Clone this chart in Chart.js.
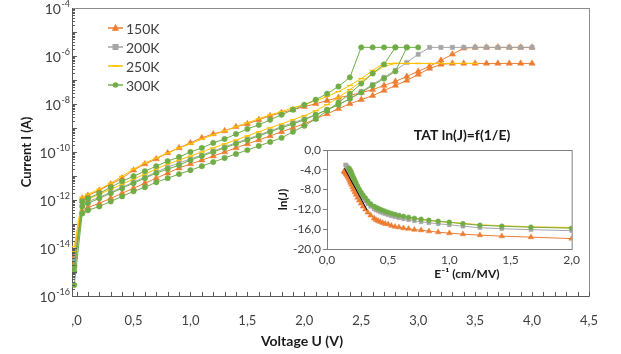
<!DOCTYPE html>
<html>
<head>
<meta charset="UTF-8">
<title>I-V curves and TAT inset</title>
<script src="https://cdn.jsdelivr.net/npm/chart.js"></script>
<style>
  body { margin: 0; background: #fff; }
  #wrap { position: relative; width: 621px; height: 354px; }
  #main { position: absolute; left: 0; top: 0; }
  #inset { position: absolute; left: 272px; top: 122px; }
</style>
</head>
<body>
<div id="wrap">
  <canvas id="main" width="621" height="354"></canvas>
  <canvas id="inset" width="312" height="165"></canvas>
</div>
<script>
// ---- main chart data: voltage (V) and log10 of current (A) per sweep ----
const volts = [-0.02, 0.05, 0.1, 0.2, 0.3, 0.4, 0.5, 0.6, 0.7, 0.8, 0.9, 1.0, 1.1, 1.2, 1.3, 1.4,
  1.5, 1.6, 1.7, 1.8, 1.9, 2.0, 2.1, 2.2, 2.3, 2.4, 2.5, 2.6, 2.7, 2.8, 2.9, 3.0, 3.1, 3.2, 3.3,
  3.4, 3.5, 3.6, 3.7, 3.8, 3.9, 4.0];

const lg150a = [-14.36, -11.93, -11.81, -11.60, -11.34, -11.09, -10.76, -10.50, -10.29, -10.04,
  -9.83, -9.62, -9.41, -9.25, -9.12, -8.95, -8.83, -8.66, -8.49, -8.36, -8.24, -8.11, -7.99, -7.86,
  -7.73, -7.65, -7.52, -7.40, -7.23, -7.06, -6.85, -6.64, -6.43, -6.18, -5.93, -5.68,
  -5.64, -5.64, -5.64, -5.64, -5.64, -5.64];
const lg150b = [-14.66, -12.48, -12.31, -12.14, -11.93, -11.72, -11.51, -11.30, -11.09, -10.88,
  -10.67, -10.50, -10.34, -10.17, -10.00, -9.83, -9.66, -9.50, -9.33, -9.16, -8.99, -8.83, -8.62,
  -8.41, -8.20, -7.99, -7.82, -7.65, -7.44, -7.23, -7.02, -6.77, -6.52, -6.35,
  -6.31, -6.31, -6.31, -6.31, -6.31, -6.31, -6.31, -6.31];
const lg200 = [-14.49, -12.18, -12.06, -11.89, -11.68, -11.47, -11.26, -11.05, -10.84, -10.63,
  -10.46, -10.29, -10.13, -9.96, -9.79, -9.62, -9.46, -9.29, -9.12, -8.95, -8.78, -8.62, -8.45,
  -8.24, -8.03, -7.78, -7.48, -7.19, -6.89, -6.60, -6.27, -5.93,
  -5.64, -5.64, -5.64, -5.64, -5.64, -5.64, -5.64, -5.64, -5.64, -5.64];
const lg250a = [-13.94, -11.89, -11.76, -11.55, -11.30, -11.01, -10.71, -10.46, -10.25, -10.04,
  -9.83, -9.66, -9.46, -9.29, -9.12, -8.95, -8.78, -8.62, -8.45, -8.32, -8.15, -8.03, -7.86, -7.69,
  -7.48, -7.23, -6.94, -6.60, -6.31, -6.31, -6.31, -6.31, -6.31, -6.31, -6.31, -6.31, -6.31,
  null, null, null, null, null];
const lg250b = [-14.15, -12.10, -11.97, -11.76, -11.55, -11.34, -11.13, -10.92, -10.71, -10.50,
  -10.34, -10.17, -10.00, -9.83, -9.66, -9.50, -9.33, -9.16, -8.99, -8.83, -8.66, -8.49, -8.28,
  -8.03, -7.73, -7.40, -7.06, -6.73, -6.43, -6.31, -6.31, -6.31,
  null, null, null, null, null, null, null, null, null, null];
const lg300a = [-14.78, -12.06, -11.93, -11.72, -11.47, -11.22, -11.01, -10.80, -10.59, -10.38,
  -10.21, -10.00, -9.83, -9.62, -9.46, -9.25, -9.04, -8.87, -8.66, -8.45, -8.24, -8.03, -7.82,
  -7.57, -7.27, -6.89, -5.64, -5.64, -5.64, -5.64, -5.64, -5.64,
  null, null, null, null, null, null, null, null, null, null];
const lg300b = [-14.99, -12.27, -12.14, -11.93, -11.72, -11.51, -11.30, -11.09, -10.88, -10.71,
  -10.55, -10.34, -10.17, -10.00, -9.83, -9.66, -9.50, -9.33, -9.16, -8.99, -8.83, -8.66, -8.45,
  -8.24, -8.03, -7.78, -7.52, -7.23, -6.94, -6.64, -5.64,
  null, null, null, null, null, null, null, null, null, null, null];
const lg300c = [-15.54, -12.56, -12.43, -12.27, -12.06, -11.85, -11.64, -11.47, -11.26, -11.09,
  -10.92, -10.76, -10.59, -10.42, -10.25, -10.08, -9.92, -9.75, -9.58, -9.41, -9.16, -8.91, -8.62,
  -8.28, -7.94, -7.57, -7.15, -6.73, -6.35, -5.64,
  null, null, null, null, null, null, null, null, null, null, null, null];

const legendNames = ['150K', '200K', '250K', '300K'];
const xTickVals = [0, 0.5, 1.0, 1.5, 2.0, 2.5, 3.0, 3.5, 4.0, 4.5];
const yTickExps = [-16, -14, -12, -10, -8, -6, -4];

// ---- inset data: E^-1 (cm/MV) and ln(J) ----
const invE = [2.0, 1.667, 1.429, 1.25, 1.111, 1.0, 0.909, 0.833, 0.769, 0.714, 0.667, 0.625,
  0.588, 0.556, 0.526, 0.5, 0.476, 0.455, 0.435, 0.417, 0.4, 0.385, 0.357, 0.333, 0.313, 0.294,
  0.278, 0.263, 0.25, 0.238, 0.227, 0.217, 0.208, 0.2, 0.192, 0.185, 0.179, 0.172, 0.167, 0.161,
  0.156, 0.152, 0.147, 0.143, 0.139];
const lnJ150 = [-17.9, -17.6, -17.4, -17.2, -17.0, -16.8, -16.6, -16.4, -16.2, -16.1, -15.9, -15.8,
  -15.6, -15.5, -15.3, -15.0, -14.9, -14.7, -14.5, -14.3, -14.1, -13.8, -13.2, -12.6, -12.0, -11.4,
  -10.8, -10.2, -9.6, -9.0, -8.5, -8.0, -7.5, -7.0, -6.6, -6.2, -5.8, -5.5, -5.2, -5.0,
  -4.8, -4.6, -4.5, -4.4, -4.3];
const lnJ200 = [-16.3, -16.1, -15.9, -15.7, -15.4, -15.1, -14.9, -14.7, -14.5, -14.3, -14.1, -13.9,
  -13.7, -13.5, -13.3, -13.1, -12.9, -12.7, -12.5, -12.3, -12.1, -11.9, -11.4, -10.9, -10.3, -9.7,
  -9.1, -8.5, -7.9, -7.3, -6.7, -6.1, -5.6, -5.1, -4.7, -4.3, -4.0, -3.7, -3.5, -3.3,
  -3.1, -3.0, null, null, null];
const lnJ250 = [-15.7, -15.5, -15.3, -15.1, -14.8, -14.6, -14.4, -14.2, -14.0, -13.8, -13.7, -13.5,
  -13.3, -13.1, -12.9, -12.7, -12.5, -12.3, -12.1, -11.9, -11.7, -11.5, -11.0, -10.5, -9.9, -9.3,
  -8.7, -8.1, -7.5, -6.9, -6.3, -5.8, -5.3, -4.8, -4.4, -4.1, -3.8, -3.6, null, null,
  null, null, null, null, null];
const lnJ300 = [-15.8, -15.6, -15.4, -15.2, -14.9, -14.6, -14.4, -14.2, -14.0, -13.8, -13.6, -13.4,
  -13.2, -13.0, -12.8, -12.6, -12.4, -12.2, -12.0, -11.8, -11.6, -11.4, -10.9, -10.3, -9.7, -9.1,
  -8.5, -7.9, -7.3, -6.7, -6.1, -5.6, -5.1, -4.6, -4.2, -3.9, -3.7, null, null, null,
  null, null, null, null, null];
const fitX = [0.143, 0.327];
const fitY = [-3.7, -12.1];
const insetXTicks = [0, 0.5, 1.0, 1.5, 2.0];
const insetYTicks = [-20, -16, -12, -8, -4, 0];

// ---- styles ----
const FONT = 'Lato, "Open Sans", sans-serif';
const TXT = '#404040';
const look = {
  '150K': { color: '#ED7D31', point: 'triangle', r: 3.6, order: 4 },
  '200K': { color: '#A5A5A5', point: 'rect', r: 3.0, order: 3 },
  '250K': { color: '#FFC000', point: 'line', r: 3.0, order: 2 },
  '300K': { color: '#70AD47', point: 'circle', r: 2.7, order: 1 }
};

function ivPoints(lg) {
  return volts.map((v, i) => ({ x: v, y: lg[i] === null ? null : Math.pow(10, lg[i]) }));
}
function xyPoints(xs, ys) {
  return xs.map((v, i) => ({ x: v, y: ys[i] }));
}
function styled(name, data) {
  const s = look[name];
  return {
    label: name, data: data, order: s.order,
    borderColor: s.color, backgroundColor: s.color, borderWidth: 1,
    pointStyle: s.point, pointRadius: s.r, pointBackgroundColor: s.color,
    pointBorderColor: s.color, pointBorderWidth: s.point === 'line' ? 1.3 : 0.5,
    spanGaps: false, tension: 0
  };
}
const comma = v => v.toFixed(1).replace('.', ',');

function drawMarker(ctx, style, r, x, y) {
  ctx.beginPath();
  if (style === 'circle') {
    ctx.arc(x, y, r, 0, Math.PI * 2); ctx.fill();
  } else if (style === 'rect') {
    ctx.fillRect(x - r, y - r, 2 * r, 2 * r);
  } else if (style === 'triangle') {
    ctx.moveTo(x, y - r * 1.15); ctx.lineTo(x + r, y + r * 0.75); ctx.lineTo(x - r, y + r * 0.75);
    ctx.closePath(); ctx.fill();
  } else {
    ctx.lineWidth = 1.5; ctx.moveTo(x - r, y); ctx.lineTo(x + r, y); ctx.stroke();
  }
}

const mainDecor = {
  id: 'mainDecor',
  beforeDatasetsDraw(chart) {
    const { ctx, chartArea: a } = chart;
    ctx.save();
    ctx.strokeStyle = '#8c8c8c'; ctx.lineWidth = 1;
    ctx.strokeRect(a.left + 0.5, a.top + 0.5, a.right - a.left, a.bottom - a.top);
    ctx.strokeStyle = '#595959';
    ctx.beginPath();
    ctx.moveTo(a.left + 0.5, a.top); ctx.lineTo(a.left + 0.5, a.bottom + 0.5);
    ctx.lineTo(a.right, a.bottom + 0.5);
    ctx.stroke();
    ctx.restore();
  },
  afterDraw(chart) {
    const { ctx, chartArea: a } = chart;
    const xs = chart.scales.x, ys = chart.scales.y;
    ctx.save();
    ctx.strokeStyle = '#595959'; ctx.lineWidth = 1;
    ctx.beginPath();
    for (let k = 0; k <= 45; k++) {
      const px = Math.round(xs.getPixelForValue(k / 10)) + 0.5;
      ctx.moveTo(px, a.bottom); ctx.lineTo(px, a.bottom - 4);
    }
    for (let e = -16; e < -4; e++) {
      for (let m = 1; m <= 9; m++) {
        const py = Math.round(ys.getPixelForValue(m * Math.pow(10, e))) + 0.5;
        ctx.moveTo(a.left, py); ctx.lineTo(a.left + (m === 1 ? 5 : 3), py);
      }
    }
    ctx.stroke();
    // y tick labels 10^n, right-aligned just left of the axis
    ctx.fillStyle = TXT;
    ys.ticks.forEach(t => {
      const py = ys.getPixelForValue(t.value);
      const exp = String(Math.round(Math.log10(t.value)));
      ctx.font = '9px ' + FONT;
      const ew = ctx.measureText(exp).width;
      ctx.textAlign = 'left'; ctx.textBaseline = 'middle';
      ctx.fillText(exp, 70 - ew, py - 4);
      ctx.font = '14px ' + FONT; ctx.textAlign = 'right';
      ctx.fillText('10', 70 - ew - 0.5, py + 1);
    });
    // x axis title
    ctx.fillStyle = '#1a1a1a'; ctx.font = 'bold 14px ' + FONT;
    ctx.textAlign = 'center'; ctx.textBaseline = 'middle';
    ctx.fillText('Voltage U (V)', 302, 341);
    // legend
    legendNames.forEach((name, i) => {
      const s = look[name], py = 28 + i * 19;
      ctx.strokeStyle = s.color; ctx.fillStyle = s.color; ctx.lineWidth = 1.5;
      ctx.beginPath(); ctx.moveTo(108, py); ctx.lineTo(123, py); ctx.stroke();
      drawMarker(ctx, s.point, s.r, 115.5, py);
      ctx.fillStyle = TXT; ctx.font = '14px ' + FONT;
      ctx.textAlign = 'left'; ctx.textBaseline = 'middle';
      ctx.fillText(name, 126, py + 1);
    });
    ctx.restore();
  }
};

new Chart(document.getElementById('main'), {
  type: 'line',
  data: {
    datasets: [
      styled('150K', ivPoints(lg150a)),
      styled('150K', ivPoints(lg150b)),
      styled('200K', ivPoints(lg200)),
      styled('250K', ivPoints(lg250a)),
      styled('250K', ivPoints(lg250b)),
      styled('300K', ivPoints(lg300a)),
      styled('300K', ivPoints(lg300b)),
      styled('300K', ivPoints(lg300c))
    ]
  },
  options: {
    responsive: false, animation: false,
    layout: { padding: { top: 8, right: 32, left: 0, bottom: 0 } },
    plugins: { legend: { display: false }, tooltip: { enabled: false } },
    scales: {
      x: {
        type: 'linear', min: -0.04, max: 4.5,
        afterBuildTicks: s => { s.ticks = xTickVals.map(v => ({ value: v })); },
        afterFit: s => { s.height = 58; },
        grid: { display: false, drawTicks: false }, border: { display: false },
        ticks: {
          padding: 17, color: TXT, font: { family: FONT, size: 13 },
          callback: v => (v === 0 ? ',0' : comma(v)), maxRotation: 0
        }
      },
      y: {
        type: 'logarithmic', min: 1e-16, max: 1e-4,
        afterBuildTicks: s => { s.ticks = yTickExps.map(e => ({ value: Math.pow(10, e) })); },
        afterFit: s => { s.width = 72; },
        grid: { display: false, drawTicks: false }, border: { display: false },
        ticks: { display: false },
        title: {
          display: true, text: 'Current I (A)', color: '#1a1a1a',
          font: { family: FONT, size: 13, weight: 'bold' }, padding: { top: 19 }
        }
      }
    }
  },
  plugins: [mainDecor]
});

// ---- inset ----
const insetDecor = {
  id: 'insetDecor',
  beforeDatasetsDraw(chart) {
    const { ctx, chartArea: a } = chart;
    ctx.save();
    ctx.fillStyle = '#fff';
    ctx.fillRect(a.left, a.top, a.right - a.left, a.bottom - a.top);
    ctx.restore();
  },
  afterDraw(chart) {
    const { ctx, chartArea: a } = chart;
    ctx.save();
    ctx.strokeStyle = '#7f7f7f'; ctx.lineWidth = 1;
    ctx.strokeRect(a.left + 0.5, a.top + 0.5, a.right - a.left, a.bottom - a.top);
    ctx.fillStyle = '#1a1a1a'; ctx.font = 'bold 14px ' + FONT;
    ctx.textAlign = 'center'; ctx.textBaseline = 'middle';
    ctx.fillText('TAT ln(J)=f(1/E)', 190, 13);
    ctx.font = 'bold 12px ' + FONT;
    ctx.fillText('E\u207B\u00B9 (cm/MV)', 195, 152);
    ctx.restore();
  }
};

function insetSet(name, ys, small) {
  const d = styled(name, xyPoints(invE, ys));
  if (small) { d.pointRadius = 0; d.borderWidth = 1.2; }
  else { d.pointRadius = look[name].r * 0.9; }
  return d;
}

new Chart(document.getElementById('inset'), {
  type: 'line',
  data: {
    datasets: [
      insetSet('150K', lnJ150),
      insetSet('200K', lnJ200),
      insetSet('250K', lnJ250, true),
      insetSet('300K', lnJ300),
      {
        label: 'fit', data: xyPoints(fitX, fitY), order: 0,
        borderColor: '#000', borderWidth: 1, pointRadius: 0
      }
    ]
  },
  options: {
    responsive: false, animation: false,
    layout: { padding: { top: 28, right: 4, left: 0, bottom: 0 } },
    plugins: { legend: { display: false }, tooltip: { enabled: false } },
    scales: {
      x: {
        type: 'linear', min: 0, max: 2,
        afterBuildTicks: s => { s.ticks = insetXTicks.map(v => ({ value: v })); },
        afterFit: s => { s.height = 38; },
        grid: { display: false, drawTicks: false }, border: { display: false },
        ticks: { padding: 4, color: TXT, font: { family: FONT, size: 12 }, callback: v => comma(v), maxRotation: 0 }
      },
      y: {
        type: 'linear', min: -20, max: 0,
        afterBuildTicks: s => { s.ticks = insetYTicks.map(v => ({ value: v })); },
        afterFit: s => { s.width = 55; },
        grid: { drawOnChartArea: false, drawTicks: true, tickLength: 4, color: '#7f7f7f' },
        border: { display: false },
        ticks: { padding: 2, color: TXT, font: { family: FONT, size: 12 }, callback: v => comma(v) },
        title: {
          display: true, text: 'ln(J)', color: '#1a1a1a',
          font: { family: FONT, size: 12, weight: 'bold' }, padding: { top: 4 }
        }
      }
    }
  },
  plugins: [insetDecor]
});
</script>
</body>
</html>
